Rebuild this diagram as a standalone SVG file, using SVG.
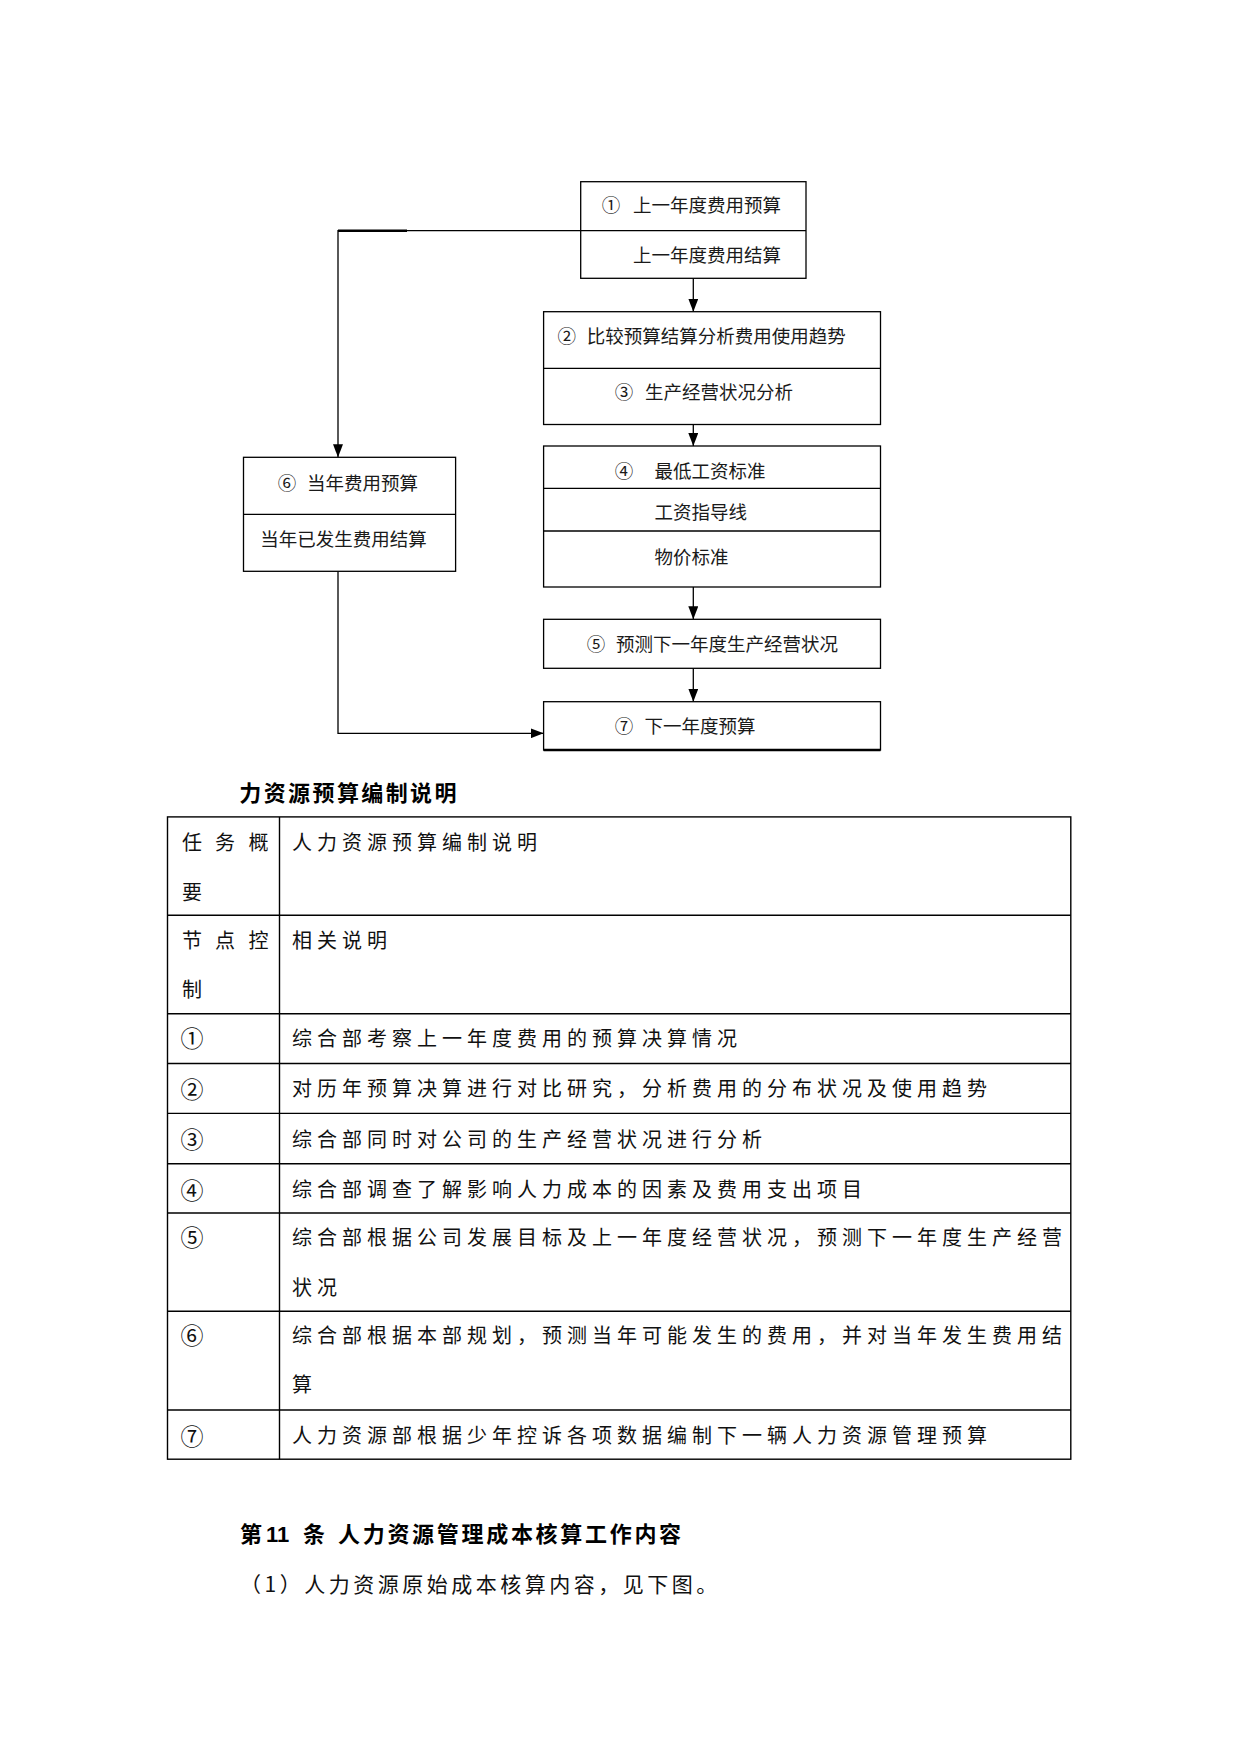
<svg xmlns="http://www.w3.org/2000/svg" width="1241" height="1754" viewBox="0 0 1241 1754">
<defs>
<marker id="arr" markerUnits="userSpaceOnUse" viewBox="0 0 13 10" refX="13" refY="5" markerWidth="13" markerHeight="10" orient="auto"><path d="M0,0 L13,5 L0,10 z" fill="#000"/></marker>
</defs>
<style>
.box{fill:#fff;stroke:#000;stroke-width:1.3}
.dv{stroke:#000;stroke-width:1.3}
.ft{font-family:"Noto Sans CJK SC","Noto Sans",sans-serif;font-size:18.5px;fill:#1a1a1a;dominant-baseline:central}
.cn{text-anchor:middle}
.conn{fill:none;stroke:#000;stroke-width:1.3}
.tl{stroke:#000;stroke-width:1.4;fill:none}
.tt{font-family:"Noto Sans CJK SC",sans-serif;font-size:20px;letter-spacing:5px;fill:#111;dominant-baseline:central}
.tc{font-family:"Noto Sans CJK SC",sans-serif;font-size:23px;fill:#111;dominant-baseline:central;text-anchor:middle}
.hd{font-family:"Liberation Sans","Noto Sans CJK SC",sans-serif;font-weight:700;font-size:22px;fill:#000;dominant-baseline:central}
.bt{font-family:"Noto Sans CJK SC",sans-serif;font-size:21px;letter-spacing:3.5px;fill:#111;dominant-baseline:central}
</style>
<rect x="0" y="0" width="1241" height="1754" fill="#fff"/>

<g id="connectors">
<path class="conn" d="M580.7,230.7 H338 V457.3" marker-end="url(#arr)"/>
<path d="M338,230.7 H407" stroke="#000" stroke-width="2.4" fill="none"/>
<path class="conn" d="M693.3,278.3 V311.7" marker-end="url(#arr)"/>
<path class="conn" d="M693.3,424.5 V446" marker-end="url(#arr)"/>
<path class="conn" d="M693.3,587 V619.3" marker-end="url(#arr)"/>
<path class="conn" d="M693.3,668.3 V701.7" marker-end="url(#arr)"/>
<path class="conn" d="M338,571.3 V733.3 H543.6" marker-end="url(#arr)"/>
</g>

<g id="node1">
<rect class="box" x="580.7" y="181.7" width="225.3" height="96.6"/>
<line class="dv" x1="580.7" y1="230.7" x2="806" y2="230.7"/>
<text class="ft cn" x="611" y="203.5">①</text>
<text class="ft" x="633" y="203.5">上一年度费用预算</text>
<text class="ft" x="633" y="254">上一年度费用结算</text>
</g>

<g id="node2">
<rect class="box" x="543.6" y="311.7" width="336.9" height="112.8"/>
<line class="dv" x1="543.6" y1="368.3" x2="880.5" y2="368.3"/>
<text class="ft cn" x="566.7" y="334.5">②</text>
<text class="ft" x="586.7" y="334.5">比较预算结算分析费用使用趋势</text>
<text class="ft cn" x="624" y="390.5">③</text>
<text class="ft" x="645" y="390.5">生产经营状况分析</text>
</g>

<g id="node4">
<rect class="box" x="543.6" y="446" width="336.9" height="141"/>
<line class="dv" x1="543.6" y1="488.3" x2="880.5" y2="488.3"/>
<line class="dv" x1="543.6" y1="531" x2="880.5" y2="531"/>
<text class="ft cn" x="624" y="469.5">④</text>
<text class="ft" x="654.6" y="469.5">最低工资标准</text>
<text class="ft" x="654.6" y="511">工资指导线</text>
<text class="ft" x="654.6" y="555.5">物价标准</text>
</g>

<g id="node5">
<rect class="box" x="543.6" y="619.3" width="336.9" height="49"/>
<text class="ft cn" x="596" y="643.3">⑤</text>
<text class="ft" x="616" y="643.3">预测下一年度生产经营状况</text>
</g>

<g id="node6">
<rect class="box" x="243.5" y="457.3" width="212.1" height="114"/>
<line class="dv" x1="243.5" y1="514.3" x2="455.6" y2="514.3"/>
<text class="ft cn" x="287" y="481.7">⑥</text>
<text class="ft" x="307" y="481.7">当年费用预算</text>
<text class="ft" x="260.3" y="538.3">当年已发生费用结算</text>
</g>

<g id="node7">
<rect class="box" x="543.6" y="701.7" width="336.9" height="48.3"/>
<line x1="543.6" y1="750" x2="880.5" y2="750" stroke="#000" stroke-width="2.6"/>
<text class="ft cn" x="624" y="724.5">⑦</text>
<text class="ft" x="644.6" y="724.5">下一年度预算</text>
</g>

<text class="hd" x="239.3" y="793" style="letter-spacing:2.4px">力资源预算编制说明</text>

<g id="table">
<rect class="tl" x="167.5" y="816.9" width="903.3" height="642.3"/>
<line class="tl" x1="279.5" y1="816.9" x2="279.5" y2="1459.2"/>
<line class="tl" x1="167.5" y1="915.3" x2="1070.8" y2="915.3"/>
<line class="tl" x1="167.5" y1="1013.8" x2="1070.8" y2="1013.8"/>
<line class="tl" x1="167.5" y1="1063.5" x2="1070.8" y2="1063.5"/>
<line class="tl" x1="167.5" y1="1113.4" x2="1070.8" y2="1113.4"/>
<line class="tl" x1="167.5" y1="1163.8" x2="1070.8" y2="1163.8"/>
<line class="tl" x1="167.5" y1="1213" x2="1070.8" y2="1213"/>
<line class="tl" x1="167.5" y1="1311.3" x2="1070.8" y2="1311.3"/>
<line class="tl" x1="167.5" y1="1410" x2="1070.8" y2="1410"/>

<text class="tt" x="182 215 248.5" y="841.5" style="letter-spacing:0">任务概</text>
<text class="tt" x="182" y="891">要</text>
<text class="tt" x="292" y="841.5">人力资源预算编制说明</text>

<text class="tt" x="182 215 248.5" y="939" style="letter-spacing:0">节点控</text>
<text class="tt" x="182" y="988.5">制</text>
<text class="tt" x="292" y="939">相关说明</text>

<text class="tc" x="192" y="1037">①</text>
<text class="tt" x="292" y="1037">综合部考察上一年度费用的预算决算情况</text>

<text class="tc" x="192" y="1087.5">②</text>
<text class="tt" x="292" y="1087.5">对历年预算决算进行对比研究，分析费用的分布状况及使用趋势</text>

<text class="tc" x="192" y="1138">③</text>
<text class="tt" x="292" y="1138">综合部同时对公司的生产经营状况进行分析</text>

<text class="tc" x="192" y="1188.5">④</text>
<text class="tt" x="292" y="1188.5">综合部调查了解影响人力成本的因素及费用支出项目</text>

<text class="tc" x="192" y="1236">⑤</text>
<text class="tt" x="292" y="1236">综合部根据公司发展目标及上一年度经营状况，预测下一年度生产经营</text>
<text class="tt" x="292" y="1286">状况</text>

<text class="tc" x="192" y="1334">⑥</text>
<text class="tt" x="292" y="1334">综合部根据本部规划，预测当年可能发生的费用，并对当年发生费用结</text>
<text class="tt" x="292" y="1383">算</text>

<text class="tc" x="192" y="1434.5">⑦</text>
<text class="tt" x="292" y="1434.5">人力资源部根据少年控诉各项数据编制下一辆人力资源管理预算</text>
</g>

<text class="hd" y="1534"><tspan x="240">第</tspan><tspan x="266">11</tspan><tspan x="303">条</tspan><tspan x="338" style="letter-spacing:2.7px">人力资源管理成本核算工作内容</tspan></text>
<text class="bt" x="240" y="1583">（1）人力资源原始成本核算内容，见下图。</text>
</svg>
